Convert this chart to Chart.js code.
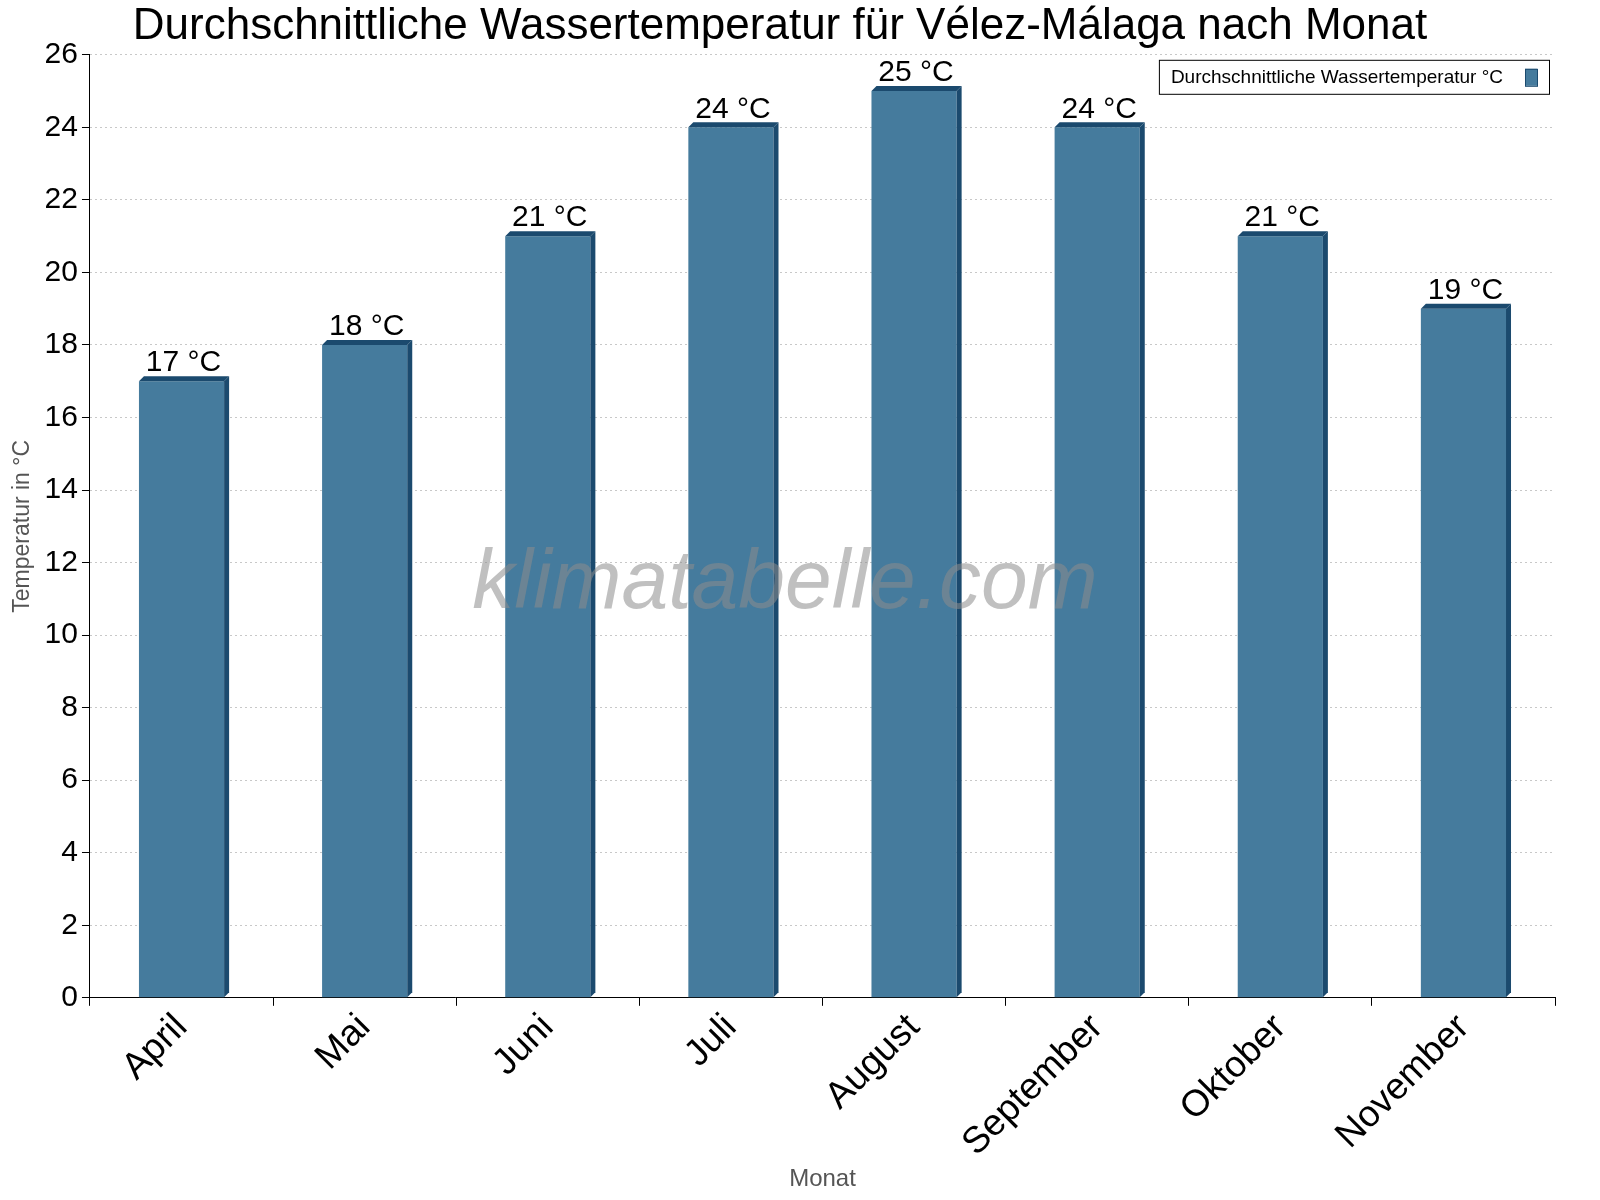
<!DOCTYPE html>
<html><head><meta charset="utf-8">
<script src="https://cdn.jsdelivr.net/npm/chart.js@4"></script>
<style>body{margin:0;background:#fff}</style>
</head><body>
<canvas id="c" width="1600" height="1200"></canvas>
<script>
const months = ['April', 'Mai', 'Juni', 'Juli', 'August', 'September', 'Oktober', 'November'];
const waterTemp = [17, 18, 21, 24, 25, 24, 21, 19];
const yTicks = [0, 2, 4, 6, 8, 10, 12, 14, 16, 18, 20, 22, 24, 26];

const FONT = 'Arial, "Liberation Sans", sans-serif';

// bar side/top shading, value labels, watermark, legend box
const extras = {
  id: 'extras',
  afterDatasetsDraw(chart) {
    const ctx = chart.ctx, a = chart.chartArea;
    const meta = chart.getDatasetMeta(0);
    ctx.save();
    meta.data.forEach((bar, i) => {
      const l = bar.x - bar.width / 2, r = bar.x + bar.width / 2, t = bar.y, b = bar.base, d = 5;
      ctx.fillStyle = '#1b4a6e';
      ctx.beginPath();
      ctx.moveTo(r, t); ctx.lineTo(r + d, t - d); ctx.lineTo(r + d, b - d); ctx.lineTo(r, b); ctx.closePath(); ctx.fill();
      ctx.beginPath();
      ctx.moveTo(l, t); ctx.lineTo(l + d, t - d); ctx.lineTo(r + d, t - d); ctx.lineTo(r, t); ctx.closePath(); ctx.fill();
      ctx.fillStyle = '#000';
      ctx.font = '30px ' + FONT;
      ctx.textAlign = 'center';
      ctx.textBaseline = 'bottom';
      ctx.fillText(waterTemp[i] + ' °C', bar.x + 2, t - 3);
    });
    // watermark
    ctx.font = 'italic 84px ' + FONT;
    ctx.fillStyle = 'rgba(140,140,140,0.55)';
    ctx.textAlign = 'center';
    ctx.textBaseline = 'middle';
    ctx.fillText('klimatabelle.com', 785, 585);
    // legend
    const text = 'Durchschnittliche Wassertemperatur °C';
    ctx.font = '19px ' + FONT;
    const w = ctx.measureText(text).width + 58;
    const x = a.right - 6 - w, y = a.top + 5;
    ctx.fillStyle = '#fff';
    ctx.fillRect(x, y, w, 34);
    ctx.strokeStyle = '#000'; ctx.lineWidth = 1;
    ctx.strokeRect(x + 0.5, y + 0.5, w, 34);
    ctx.fillStyle = '#000'; ctx.textAlign = 'left'; ctx.textBaseline = 'middle';
    ctx.fillText(text, x + 12, y + 18);
    ctx.fillStyle = '#457b9d'; ctx.fillRect(x + w - 24, y + 9, 12, 17);
    ctx.strokeStyle = '#1b4a6e'; ctx.strokeRect(x + w - 23.5, y + 9.5, 12, 17);
    ctx.restore();
  }
};

new Chart(document.getElementById('c'), {
  type: 'bar',
  data: {
    labels: months,
    datasets: [{
      label: 'Durchschnittliche Wassertemperatur °C',
      data: waterTemp,
      backgroundColor: '#457b9d',
      categoryPercentage: 1,
      barPercentage: 0.465
    }]
  },
  options: {
    responsive: false,
    animation: false,
    layout: { padding: { left: 5, right: 45, top: 0, bottom: 2 } },
    plugins: {
      legend: { display: false },
      tooltip: { enabled: false },
      title: {
        display: true,
        text: 'Durchschnittliche Wassertemperatur für Vélez-Málaga nach Monat',
        color: '#000',
        font: { family: FONT, size: 44, weight: 'normal' },
        padding: { top: 0, bottom: 2 }
      }
    },
    scales: {
      y: {
        min: 0, max: 26,
        afterBuildTicks: (s) => { s.ticks = yTicks.map(v => ({ value: v })); },
        ticks: { color: '#000', font: { family: FONT, size: 30 }, padding: 4 },
        grid: { color: '#c8c8c8', tickColor: '#000', tickLength: 8, tickBorderDash: [], borderDash: [2, 4] },
        border: { color: '#000', dash: [2, 3] },
        title: { display: true, text: 'Temperatur in °C', color: '#555', font: { family: FONT, size: 23 } }
      },
      x: {
        ticks: { color: '#000', font: { family: FONT, size: 37 }, maxRotation: 45, minRotation: 45, padding: 0 },
        grid: { offset: true, drawOnChartArea: false, color: '#000', tickLength: 8 },
        border: { color: '#000' },
        title: { display: true, text: 'Monat', color: '#555', font: { family: FONT, size: 24 }, padding: { top: 0 } }
      }
    }
  },
  plugins: [extras]
});
</script>
</body></html>
